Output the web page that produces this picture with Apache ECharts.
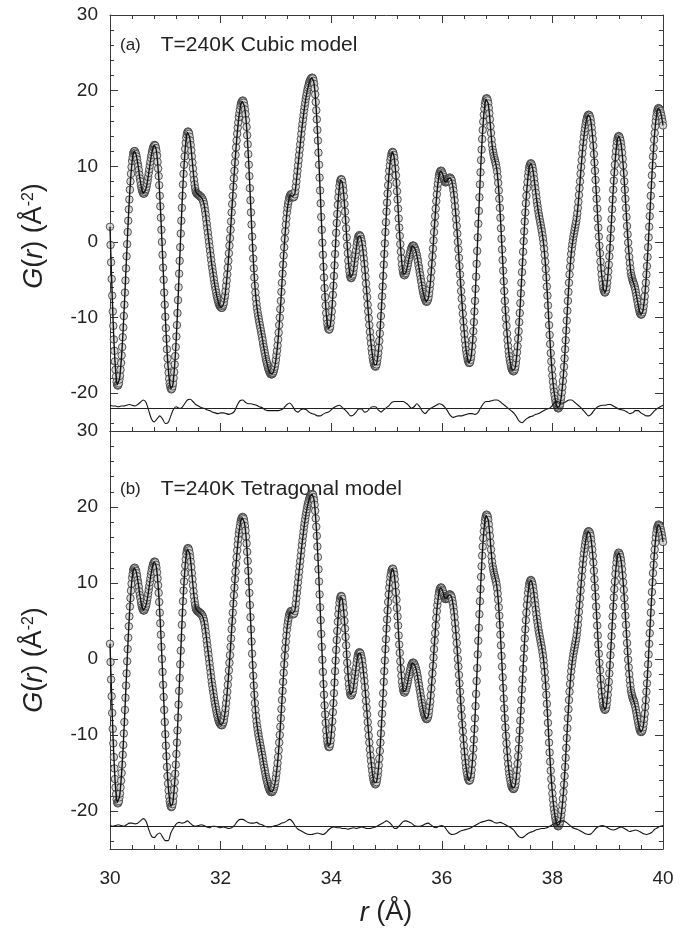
<!DOCTYPE html>
<html>
<head>
<meta charset="utf-8">
<script src="https://cdn.jsdelivr.net/npm/echarts@6/dist/echarts.min.js"></script>
<style>html,body{margin:0;padding:0;background:#fff}#c{width:682px;height:930px}</style>
</head>
<body>
<div id="c"></div>
<script>
// ---- data ----
const R_START = 30, R_STEP = 0.01;          // sampling grid of the observed G(r)
const gObs = [
/*0*/ 2.0,-0.4,-2.7,-4.9,-7.1,-9.2,-11.1,-12.9,-14.4,-15.8,
/*10*/ -16.9,-17.8,-18.5,-18.9,-19.0,-18.9,-18.7,-18.2,-17.7,-16.9,
/*20*/ -16.0,-15.0,-13.9,-12.6,-11.3,-9.8,-8.3,-6.7,-5.1,-3.5,
/*30*/ -1.9,-0.3,1.3,2.8,4.3,5.6,6.9,8.0,9.0,9.9,
/*40*/ 10.7,11.2,11.7,11.9,12.0,12.0,11.8,11.6,11.3,10.9,
/*50*/ 10.4,10.0,9.5,8.9,8.4,8.0,7.5,7.1,6.8,6.6,
/*60*/ 6.4,6.4,6.4,6.6,6.8,7.0,7.3,7.7,8.1,8.6,
/*70*/ 9.1,9.6,10.1,10.6,11.1,11.5,11.9,12.2,12.5,12.6,
/*80*/ 12.8,12.8,12.7,12.4,12.0,11.4,10.6,9.7,8.7,7.5,
/*90*/ 6.1,4.7,3.2,1.6,0.0,-1.7,-3.4,-5.0,-6.7,-8.3,
/*100*/ -9.9,-11.4,-12.8,-14.2,-15.4,-16.4,-17.3,-18.1,-18.7,-19.1,
/*110*/ -19.4,-19.5,-19.4,-19.1,-18.7,-18.0,-17.2,-16.2,-15.1,-13.9,
/*120*/ -12.5,-11.0,-9.4,-7.7,-6.0,-4.2,-2.5,-0.7,1.1,2.8,
/*130*/ 4.5,6.1,7.6,9.0,10.2,11.3,12.3,13.1,13.8,14.2,
/*140*/ 14.5,14.6,14.5,14.3,13.9,13.4,12.8,12.1,11.3,10.5,
/*150*/ 9.7,8.9,8.2,7.6,7.1,6.7,6.5,6.4,6.3,6.3,
/*160*/ 6.2,6.2,6.1,6.0,6.0,5.9,5.8,5.7,5.5,5.3,
/*170*/ 5.0,4.6,4.1,3.6,3.0,2.4,1.8,1.2,0.6,0.0,
/*180*/ -0.6,-1.2,-1.8,-2.4,-3.0,-3.5,-4.0,-4.5,-5.0,-5.5,
/*190*/ -5.9,-6.3,-6.7,-7.1,-7.4,-7.7,-8.0,-8.2,-8.4,-8.5,
/*200*/ -8.6,-8.7,-8.7,-8.7,-8.5,-8.3,-8.0,-7.5,-7.1,-6.5,
/*210*/ -5.8,-5.1,-4.3,-3.4,-2.5,-1.5,-0.5,0.5,1.6,2.7,
/*220*/ 3.9,5.0,6.1,7.3,8.4,9.4,10.5,11.5,12.5,13.4,
/*230*/ 14.3,15.1,15.8,16.5,17.0,17.5,18.0,18.3,18.5,18.6,
/*240*/ 18.7,18.6,18.4,18.0,17.5,16.9,16.1,15.2,14.1,12.9,
/*250*/ 11.6,10.2,8.7,7.1,5.5,3.9,2.3,0.7,-0.8,-2.2,
/*260*/ -3.5,-4.7,-5.8,-6.7,-7.5,-8.2,-8.8,-9.3,-9.8,-10.2,
/*270*/ -10.6,-11.0,-11.4,-11.8,-12.2,-12.6,-13.0,-13.5,-13.9,-14.3,
/*280*/ -14.7,-15.1,-15.5,-15.8,-16.1,-16.4,-16.7,-16.9,-17.1,-17.3,
/*290*/ -17.4,-17.5,-17.5,-17.5,-17.4,-17.3,-17.1,-16.8,-16.5,-16.1,
/*300*/ -15.6,-15.0,-14.4,-13.7,-12.9,-12.0,-11.0,-10.0,-8.9,-7.8,
/*310*/ -6.6,-5.4,-4.2,-3.0,-1.8,-0.7,0.4,1.4,2.3,3.1,
/*320*/ 3.9,4.5,5.0,5.4,5.8,6.0,6.2,6.3,6.3,6.2,
/*330*/ 6.0,5.9,5.9,6.0,6.3,6.7,7.3,8.0,8.7,9.4,
/*340*/ 10.1,10.8,11.5,12.2,12.9,13.6,14.3,15.0,15.6,16.2,
/*350*/ 16.8,17.4,17.9,18.4,18.9,19.3,19.7,20.1,20.4,20.7,
/*360*/ 21.0,21.2,21.4,21.5,21.6,21.7,21.7,21.6,21.3,20.9,
/*370*/ 20.3,19.5,18.5,17.4,16.2,14.8,13.4,11.8,10.2,8.5,
/*380*/ 6.8,5.1,3.3,1.6,-0.1,-1.7,-3.3,-4.7,-6.1,-7.3,
/*390*/ -8.4,-9.4,-10.2,-10.8,-11.2,-11.5,-11.6,-11.5,-11.2,-10.7,
/*400*/ -10.0,-9.2,-8.2,-7.0,-5.8,-4.5,-3.1,-1.6,-0.2,1.2,
/*410*/ 2.5,3.7,4.9,5.9,6.7,7.4,7.9,8.2,8.3,8.2,
/*420*/ 7.9,7.4,6.8,6.0,5.0,4.0,2.9,1.8,0.6,-0.5,
/*430*/ -1.5,-2.5,-3.3,-3.9,-4.4,-4.7,-4.8,-4.7,-4.5,-4.3,
/*440*/ -3.9,-3.4,-2.8,-2.2,-1.7,-1.1,-0.5,0.0,0.4,0.7,
/*450*/ 0.8,0.9,0.8,0.7,0.4,0.1,-0.3,-0.9,-1.5,-2.2,
/*460*/ -2.9,-3.7,-4.6,-5.5,-6.4,-7.3,-8.3,-9.2,-10.1,-11.0,
/*470*/ -11.9,-12.7,-13.4,-14.1,-14.7,-15.3,-15.7,-16.0,-16.3,-16.4,
/*480*/ -16.5,-16.4,-16.2,-15.8,-15.3,-14.7,-14.0,-13.1,-12.1,-11.0,
/*490*/ -9.8,-8.5,-7.2,-5.9,-4.5,-3.0,-1.6,-0.2,1.3,2.6,
/*500*/ 4.0,5.2,6.4,7.5,8.5,9.4,10.1,10.8,11.2,11.6,
/*510*/ 11.8,11.9,11.8,11.5,11.1,10.5,9.7,8.8,7.8,6.7,
/*520*/ 5.6,4.4,3.1,1.9,0.8,-0.3,-1.3,-2.2,-3.0,-3.6,
/*530*/ -4.0,-4.3,-4.4,-4.4,-4.2,-4.1,-3.8,-3.5,-3.2,-2.8,
/*540*/ -2.4,-2.1,-1.7,-1.4,-1.1,-0.8,-0.7,-0.5,-0.5,-0.5,
/*550*/ -0.6,-0.8,-1.0,-1.2,-1.5,-1.8,-2.2,-2.6,-3.1,-3.5,
/*560*/ -4.0,-4.4,-4.9,-5.3,-5.8,-6.2,-6.6,-6.9,-7.2,-7.4,
/*570*/ -7.6,-7.8,-7.9,-7.9,-7.8,-7.6,-7.3,-6.8,-6.2,-5.6,
/*580*/ -4.8,-3.9,-2.9,-1.9,-0.9,0.2,1.3,2.4,3.4,4.4,
/*590*/ 5.4,6.3,7.1,7.7,8.3,8.8,9.1,9.3,9.4,9.4,
/*600*/ 9.3,9.1,8.9,8.6,8.3,8.1,7.9,7.9,7.9,8.0,
/*610*/ 8.1,8.3,8.4,8.4,8.5,8.5,8.4,8.3,8.1,7.7,
/*620*/ 7.3,6.8,6.2,5.5,4.7,3.9,3.0,2.1,1.1,0.0,
/*630*/ -1.0,-2.1,-3.2,-4.3,-5.4,-6.5,-7.5,-8.6,-9.5,-10.5,
/*640*/ -11.4,-12.2,-13.0,-13.7,-14.3,-14.8,-15.2,-15.6,-15.8,-16.0,
/*650*/ -16.0,-15.9,-15.6,-15.2,-14.6,-13.8,-12.9,-11.8,-10.6,-9.2,
/*660*/ -7.8,-6.2,-4.6,-2.9,-1.2,0.6,2.4,4.1,5.9,7.6,
/*670*/ 9.2,10.8,12.2,13.6,14.8,15.9,16.8,17.6,18.2,18.6,
/*680*/ 18.9,19.0,18.9,18.7,18.3,17.7,17.0,16.2,15.3,14.4,
/*690*/ 13.5,12.8,12.2,11.8,11.4,11.1,10.8,10.5,10.2,9.8,
/*700*/ 9.3,8.6,7.8,6.8,5.7,4.5,3.2,1.8,0.4,-1.0,
/*710*/ -2.4,-3.8,-5.2,-6.5,-7.8,-9.0,-10.1,-11.1,-12.1,-13.0,
/*720*/ -13.8,-14.5,-15.1,-15.6,-16.0,-16.4,-16.7,-16.9,-17.0,-17.1,
/*730*/ -17.1,-17.0,-16.8,-16.5,-16.0,-15.4,-14.6,-13.8,-12.8,-11.8,
/*740*/ -10.6,-9.4,-8.1,-6.8,-5.4,-4.0,-2.7,-1.3,0.1,1.4,
/*750*/ 2.7,3.9,5.1,6.1,7.1,7.9,8.7,9.3,9.8,10.1,
/*760*/ 10.3,10.4,10.3,10.1,9.8,9.4,8.9,8.3,7.7,7.1,
/*770*/ 6.5,5.9,5.3,4.8,4.3,3.8,3.4,3.0,2.6,2.2,
/*780*/ 1.8,1.4,0.9,0.4,-0.2,-0.9,-1.7,-2.6,-3.6,-4.7,
/*790*/ -5.9,-7.1,-8.4,-9.7,-11.0,-12.3,-13.5,-14.7,-15.8,-16.8,
/*800*/ -17.7,-18.5,-19.2,-19.8,-20.3,-20.8,-21.2,-21.5,-21.7,-21.9,
/*810*/ -22.0,-22.0,-21.9,-21.7,-21.4,-21.0,-20.5,-19.9,-19.2,-18.4,
/*820*/ -17.5,-16.5,-15.4,-14.2,-13.0,-11.7,-10.4,-9.1,-7.8,-6.6,
/*830*/ -5.4,-4.3,-3.3,-2.4,-1.6,-0.9,-0.3,0.2,0.7,1.1,
/*840*/ 1.5,1.9,2.3,2.7,3.2,3.8,4.5,5.3,6.2,7.1,
/*850*/ 8.0,9.0,9.9,10.8,11.7,12.5,13.2,13.9,14.5,15.0,
/*860*/ 15.5,15.9,16.2,16.5,16.7,16.8,16.8,16.7,16.5,16.2,
/*870*/ 15.7,15.1,14.4,13.6,12.7,11.6,10.5,9.4,8.2,6.9,
/*880*/ 5.7,4.4,3.1,1.9,0.7,-0.5,-1.5,-2.6,-3.5,-4.3,
/*890*/ -5.0,-5.6,-6.1,-6.4,-6.6,-6.7,-6.6,-6.4,-6.0,-5.4,
/*900*/ -4.7,-3.9,-3.0,-1.9,-0.8,0.5,1.7,3.0,4.3,5.6,
/*910*/ 6.9,8.1,9.2,10.2,11.2,12.0,12.7,13.3,13.7,13.9,
/*920*/ 14.0,13.9,13.7,13.4,13.0,12.5,11.8,11.0,10.1,9.1,
/*930*/ 8.0,6.9,5.7,4.5,3.3,2.1,1.0,-0.1,-1.1,-2.0,
/*940*/ -2.8,-3.5,-4.1,-4.5,-4.8,-5.1,-5.3,-5.5,-5.7,-6.0,
/*950*/ -6.3,-6.7,-7.1,-7.5,-7.9,-8.3,-8.7,-9.0,-9.3,-9.5,
/*960*/ -9.6,-9.6,-9.5,-9.3,-9.0,-8.5,-7.9,-7.2,-6.3,-5.4,
/*970*/ -4.3,-3.2,-2.0,-0.7,0.6,2.0,3.4,4.7,6.1,7.5,
/*980*/ 8.8,10.1,11.3,12.4,13.5,14.4,15.3,16.0,16.6,17.1,
/*990*/ 17.4,17.6,17.7,17.6,17.5,17.3,17.0,16.7,16.3,15.9,
/*1000*/ 15.4
];

const D_START = 30, D_STEP = 0.05;         // sampling grid of the difference curves
const diffCubic = [
 -21.6,-21.7,-21.7,-21.8,-21.7,-21.7,-21.6,-21.5,-21.6,-21.7,
 -21.5,-21.2,-20.9,-21.2,-22.3,-23.4,-23.8,-23.4,-23.0,-23.4,
 -24.0,-23.9,-23.0,-22.1,-21.8,-22.0,-21.9,-21.4,-20.9,-20.8,
 -21.1,-21.5,-21.7,-21.9,-22.0,-22.2,-22.3,-22.5,-22.6,-22.7,
 -22.6,-22.6,-22.7,-22.8,-22.7,-22.4,-21.6,-21.0,-20.9,-21.2,
 -21.4,-21.4,-21.5,-21.6,-21.8,-21.9,-22.2,-22.3,-22.3,-22.3,
 -22.3,-22.3,-22.2,-21.9,-21.5,-21.3,-21.7,-22.3,-22.5,-22.2,
 -22.1,-22.2,-22.5,-22.7,-22.8,-23.0,-23.0,-22.8,-22.6,-22.5,
 -22.2,-21.9,-21.7,-21.6,-21.9,-22.2,-22.6,-23.0,-22.9,-22.5,
 -22.1,-22.1,-22.5,-22.4,-22.0,-21.8,-21.8,-22.2,-22.5,-22.2,
 -21.9,-21.6,-21.2,-21.1,-21.1,-21.1,-21.1,-21.3,-21.6,-22.0,
 -21.8,-21.4,-21.8,-22.4,-22.7,-22.3,-22.0,-21.8,-21.6,-21.4,
 -21.5,-21.8,-22.3,-22.9,-23.2,-23.1,-23.0,-23.0,-22.9,-22.8,
 -22.7,-22.7,-22.8,-22.6,-22.0,-21.4,-21.1,-21.1,-21.0,-20.9,
 -20.9,-21.1,-21.4,-21.7,-22.0,-22.3,-22.6,-23.1,-23.7,-23.9,
 -23.6,-23.3,-23.1,-23.0,-22.8,-22.7,-22.5,-22.3,-22.1,-22.0,
 -21.6,-21.2,-21.1,-21.3,-21.3,-21.1,-20.9,-20.9,-21.2,-21.5,
 -21.8,-22.2,-22.6,-23.0,-22.8,-22.3,-21.9,-21.7,-21.6,-21.6,
 -21.5,-21.5,-21.7,-21.9,-22.1,-22.2,-22.3,-22.5,-22.7,-22.6,
 -22.3,-22.3,-22.6,-22.8,-23.0,-23.0,-22.7,-22.3,-22.0,-21.8,
 -21.6
];
const diffTetragonal = [
 -21.9,-22.0,-21.9,-21.8,-21.9,-22.0,-21.8,-21.6,-21.6,-21.7,
 -21.6,-21.3,-21.0,-21.3,-22.4,-23.3,-23.5,-23.1,-22.9,-23.4,
 -23.9,-23.9,-22.9,-22.2,-21.7,-21.5,-21.6,-21.5,-21.3,-21.6,
 -21.9,-22.0,-21.9,-21.8,-21.9,-22.1,-22.2,-22.0,-22.0,-22.1,
 -22.2,-22.1,-22.2,-22.3,-22.2,-21.9,-21.4,-21.1,-21.1,-21.3,
 -21.5,-21.6,-21.6,-21.5,-21.7,-21.8,-22.0,-22.1,-22.1,-22.0,
 -21.9,-21.8,-21.6,-21.5,-21.3,-21.1,-21.4,-22.0,-22.4,-22.6,
 -22.8,-23.0,-23.1,-23.1,-23.0,-22.9,-23.0,-23.1,-22.9,-22.5,
 -22.2,-22.1,-22.2,-22.2,-22.3,-22.3,-22.4,-22.3,-22.2,-22.3,
 -22.2,-22.1,-22.2,-22.3,-22.3,-22.2,-22.1,-21.9,-21.7,-21.5,
 -21.3,-21.5,-21.9,-22.3,-22.2,-21.8,-21.4,-21.3,-21.4,-21.6,
 -21.9,-22.0,-22.0,-21.9,-21.7,-21.6,-21.8,-22.1,-22.2,-22.0,
 -21.9,-22.1,-22.6,-23.0,-23.1,-23.0,-22.8,-22.6,-22.5,-22.4,
 -22.3,-22.1,-21.9,-21.7,-21.5,-21.4,-21.3,-21.2,-21.3,-21.5,
 -21.6,-21.5,-21.6,-21.8,-22.0,-22.2,-22.5,-23.0,-23.4,-23.5,
 -23.3,-23.0,-22.8,-22.7,-22.5,-22.4,-22.3,-22.3,-22.2,-22.0,
 -21.8,-21.6,-21.5,-21.3,-21.3,-21.5,-21.8,-22.1,-22.3,-22.4,
 -22.6,-22.8,-23.0,-23.1,-23.0,-22.6,-22.2,-22.0,-21.9,-22.0,
 -22.2,-22.4,-22.5,-22.4,-22.2,-22.1,-22.3,-22.5,-22.7,-22.6,
 -22.5,-22.6,-22.8,-23.0,-23.1,-23.0,-22.8,-22.4,-22.2,-22.0,
 -21.9
];
const diffBaseline = -22;

const xMin = 30, xMax = 40, xInterval = 2;
const yMin = -25, yMax = 30;
const panelTags = ['(a)', '(b)'];
const panelTitles = ['T=240K Cubic model', 'T=240K Tetragonal model'];

// ---- chart ----
const FONT = '"Liberation Sans", Arimo, Arial, sans-serif';
const AX = '#3a3a3a';
const TXT = '#222';

const obsPts = gObs.map((g, i) => [+(R_START + i * R_STEP).toFixed(2), g]);
const toPts = arr => arr.map((g, i) => [+(D_START + i * D_STEP).toFixed(2), g]);

const grids = [
  { left: 110, top: 15, width: 553, height: 416 },
  { left: 110, top: 431, width: 553, height: 418 }
];

function xAx(gi, pos, showLabel, showTicks) {
  return {
    type: 'value', gridIndex: gi, position: pos, min: xMin, max: xMax, interval: xInterval,
    axisLine: { show: true, onZero: false, lineStyle: { color: AX, width: 1 } },
    axisTick: { show: showTicks, inside: true, length: 8, lineStyle: { color: AX, width: 1 } },
    minorTick: { show: showTicks, splitNumber: 5, length: 4, lineStyle: { color: AX, width: 1 } },
    axisLabel: { show: showLabel, margin: 20, fontSize: 19, color: TXT, fontFamily: FONT },
    splitLine: { show: false }, minorSplitLine: { show: false }
  };
}
function yAx(gi, pos, showLabel) {
  return {
    type: 'value', gridIndex: gi, position: pos, min: yMin, max: yMax, splitNumber: 5,
    axisLine: { show: true, onZero: false, lineStyle: { color: AX, width: 1 } },
    axisTick: { show: true, inside: true, length: 8, lineStyle: { color: AX, width: 1 } },
    minorTick: { show: true, splitNumber: 5, length: 4, lineStyle: { color: AX, width: 1 } },
    axisLabel: { show: showLabel, margin: 12, fontSize: 19, color: TXT, fontFamily: FONT,
      formatter: v => (Math.round(v) % 10 === 0 ? String(Math.round(v)) : '') },
    splitLine: { show: false }, minorSplitLine: { show: false }
  };
}

function panelSeries(k, diff) {
  const xi = k * 2, yi = k * 2;
  return [
    { type: 'scatter', xAxisIndex: xi, yAxisIndex: yi, data: obsPts, symbol: 'circle', symbolSize: 7.5,
      itemStyle: { color: '#d6d6d6', borderColor: '#2e2e2e', borderWidth: 1 }, z: 2, silent: true },
    { type: 'line', xAxisIndex: xi, yAxisIndex: yi, data: obsPts, symbol: 'none', showSymbol: false,
      lineStyle: { color: '#141414', width: 1.4 }, z: 3, silent: true },
    { type: 'line', xAxisIndex: xi, yAxisIndex: yi, data: toPts(diff), symbol: 'none', showSymbol: false, smooth: 0.3,
      lineStyle: { color: '#141414', width: 1.1 }, z: 3, silent: true,
      markLine: { silent: true, symbol: 'none', label: { show: false },
        lineStyle: { color: '#222', width: 1, type: 'solid' }, data: [{ yAxis: diffBaseline }] } }
  ];
}

function yTitle(cy) {
  return {
    type: 'text', x: 34, y: cy, rotation: Math.PI / 2,
    style: {
      text: '{i|G}({i|r}) (Å{s|-2})', align: 'center', verticalAlign: 'middle',
      fill: TXT, fontSize: 27, fontFamily: FONT,
      rich: {
        i: { fontStyle: 'italic', fontSize: 27, fontFamily: FONT, fill: TXT },
        s: { fontSize: 16, fontFamily: FONT, fill: TXT, verticalAlign: 'top' }
      }
    }
  };
}
function panelText(k, y) {
  return {
    type: 'text', x: 120, y: y,
    style: {
      text: '{a|' + panelTags[k] + '}{b|' + panelTitles[k] + '}', align: 'left', verticalAlign: 'middle',
      fill: TXT, fontFamily: FONT,
      rich: { a: { fontSize: 17, fontFamily: FONT, fill: TXT },
              b: { fontSize: 21, fontFamily: FONT, fill: TXT, padding: [0, 0, 0, 20] } }
    }
  };
}

const chart = echarts.init(document.getElementById('c'), null, { renderer: 'canvas' });
chart.setOption({
  animation: false,
  backgroundColor: '#fff',
  grid: grids,
  xAxis: [xAx(0, 'bottom', false, true), xAx(0, 'top', false, true), xAx(1, 'bottom', true, true), xAx(1, 'top', false, false)],
  yAxis: [yAx(0, 'left', true), yAx(0, 'right', false), yAx(1, 'left', true), yAx(1, 'right', false)],
  series: [...panelSeries(0, diffCubic), ...panelSeries(1, diffTetragonal)],
  graphic: [
    panelText(0, 45), panelText(1, 489),
    yTitle(236), yTitle(660),
    { type: 'text', x: 386, y: 913,
      style: { text: '{i|r} (Å)', align: 'center', verticalAlign: 'middle', fill: TXT, fontSize: 27, fontFamily: FONT,
        rich: { i: { fontStyle: 'italic', fontSize: 27, fontFamily: FONT, fill: TXT } } } }
  ]
});
</script>
</body>
</html>
